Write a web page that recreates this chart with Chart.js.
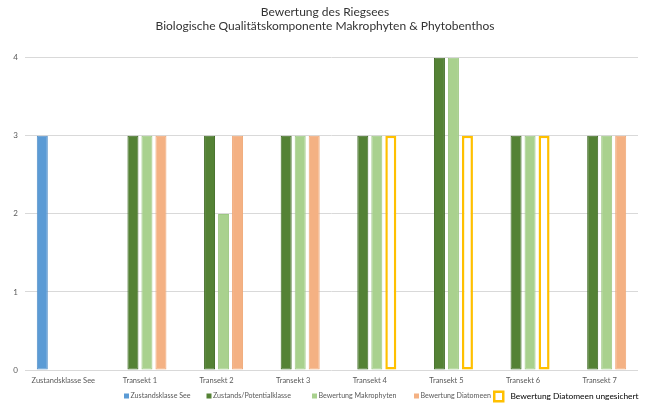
<!DOCTYPE html>
<html><head><meta charset="utf-8">
<script src="https://cdn.jsdelivr.net/npm/chart.js@4/dist/chart.umd.min.js"></script>
<style>html,body{margin:0;padding:0;background:#fff}#wrap{width:650px;height:416px}</style>
</head><body><div id="wrap"><canvas id="c" width="650" height="416"></canvas></div>
<script>
const titleLines = ['Bewertung des Riegsees', 'Biologische Qualitätskomponente Makrophyten & Phytobenthos'];
const categories = ['Zustandsklasse See','Transekt 1','Transekt 2','Transekt 3','Transekt 4','Transekt 5','Transekt 6','Transekt 7'];
const zustandsklasseSee = [3, null, null, null, null, null, null, null];
const zustandsPotentialklasse = [null, 3, 3, 3, 3, 4, 3, 3];
const bewertungMakrophyten = [null, 3, 2, 3, 3, 4, 3, 3];
const bewertungDiatomeen = [null, 3, 3, 3, null, null, null, 3];
const diatomeenUngesichert = [null, null, null, null, 3, 3, 3, null];
const yTicks = [0, 1, 2, 3, 4];

const FONT = 'Lato';

const legendPlugin = {
  id: 'customLegend',
  afterDraw(chart) {
    const ctx = chart.ctx;
    const starts = [124, 206.5, 312, 414, 493];
    const y = 396;
    ctx.save();
    ctx.textBaseline = 'middle';
    ctx.textAlign = 'left';
    chart.data.datasets.forEach((ds, i) => {
      const x = starts[i];
      if (i < 4) {
        ctx.fillStyle = ds.backgroundColor;
        ctx.fillRect(x, y - 2.5, 5, 5);
        ctx.fillStyle = '#595959';
        ctx.font = '7.1px ' + FONT;
        ctx.fillText(ds.label, x + 6.5, y);
      } else {
        ctx.fillStyle = ds.borderColor;
        ctx.fillRect(x, y - 5.5, 11.5, 12);
        ctx.fillStyle = '#fff';
        ctx.fillRect(x + 2.5, y - 3, 6.5, 7);
        ctx.fillStyle = '#000';
        ctx.font = '8.4px ' + FONT;
        ctx.fillText(ds.label, x + 17.5, y + 0.5);
      }
    });
    ctx.restore();
  }
};

new Chart(document.getElementById('c'), {
  type: 'bar',
  data: {
    labels: categories,
    datasets: [
      { label: 'Zustandsklasse See', data: zustandsklasseSee, stack: 'a', backgroundColor: '#5B9BD5', borderColor: '#5590C8', borderWidth: 1, borderSkipped: false },
      { label: 'Zustands/Potentialklasse', data: zustandsPotentialklasse, stack: 'b', backgroundColor: '#548235', borderColor: '#3F6B24', borderWidth: 1, borderSkipped: false },
      { label: 'Bewertung Makrophyten', data: bewertungMakrophyten, stack: 'c', backgroundColor: '#A9D18E', borderColor: '#9DC883', borderWidth: 1, borderSkipped: false },
      { label: 'Bewertung Diatomeen', data: bewertungDiatomeen, stack: 'd', backgroundColor: '#F4B183', borderColor: '#EFA776', borderWidth: 1, borderSkipped: false },
      { label: 'Bewertung Diatomeen ungesichert', data: diatomeenUngesichert, stack: 'd', backgroundColor: '#FFFFFF', borderColor: '#FFC000', borderWidth: 2.5, borderSkipped: false }
    ]
  },
  options: {
    responsive: false,
    animation: false,
    devicePixelRatio: 1,
    categoryPercentage: 0.731,
    barPercentage: 0.786,
    layout: { padding: { top: 0, right: 0, bottom: 0, left: 0 } },
    plugins: {
      legend: { display: false },
      tooltip: { enabled: false },
      title: {
        display: true,
        text: titleLines,
        color: '#333333',
        font: { family: FONT, size: 12, weight: 'normal', lineHeight: 1.2 },
        padding: { top: 5, bottom: 24 }
      }
    },
    scales: {
      x: {
        grid: { display: false, drawTicks: false },
        border: { display: false },
        ticks: { color: '#595959', font: { family: FONT, size: 7.5 }, padding: 6, maxRotation: 0, autoSkip: false },
        afterFit(scale) { scale.height = 46; }
      },
      y: {
        min: 0, max: 4,
        afterBuildTicks(scale) { scale.ticks = yTicks.map(v => ({ value: v })); },
        grid: { color: '#D9D9D9', lineWidth: 1, drawTicks: false },
        border: { display: false },
        ticks: { color: '#595959', font: { family: FONT, size: 8 }, padding: 7 },
        afterFit(scale) { scale.width = 25; }
      },
      yRight: {
        position: 'right',
        grid: { display: false, drawTicks: false },
        border: { display: false },
        ticks: { display: false },
        afterFit(scale) { scale.width = 12; }
      }
    }
  },
  plugins: [legendPlugin]
});
</script>
</body></html>
